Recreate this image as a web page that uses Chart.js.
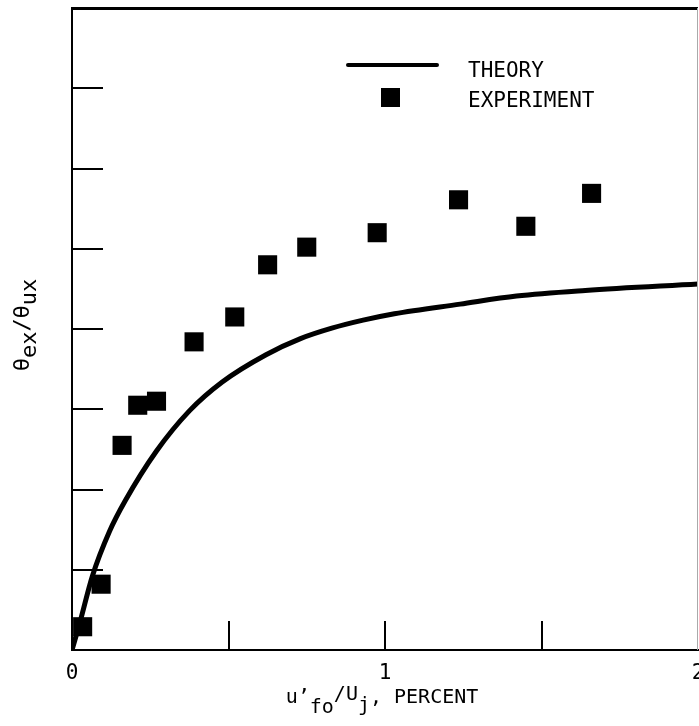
<!DOCTYPE html>
<html>
<head>
<meta charset="utf-8">
<title>theta ratio vs turbulence</title>
<script src="https://cdn.jsdelivr.net/npm/chart.js@4.4.0/dist/chart.umd.min.js"></script>
<style>
html, body { margin: 0; padding: 0; background: #fff; overflow: hidden; }
</style>
</head>
<body>
<canvas id="chart" width="699" height="726"></canvas>
<script>
// theory curve, traced
let theoryX = [0, 0.025, 0.065, 0.12, 0.17, 0.27, 0.375, 0.48, 0.62, 0.73, 0.83, 0.93, 1.03, 1.24, 1.42, 1.64, 2.0];
let theoryY = [0, 0.34, 0.92, 1.48, 1.86, 2.48, 2.98, 3.34, 3.68, 3.88, 4.01, 4.11, 4.19, 4.31, 4.41, 4.48, 4.56];

// experiment points
let expX = [0.034, 0.093, 0.16, 0.21, 0.27, 0.39, 0.52, 0.625, 0.75, 0.975, 1.235, 1.45, 1.66];
let expY = [0.29, 0.82, 2.55, 3.05, 3.10, 3.84, 4.15, 4.80, 5.02, 5.20, 5.61, 5.28, 5.69];

let xTickVals = [0, 0.5, 1, 1.5, 2];
let xTickText = ['0', '', '1', '', '2'];
let yTickVals = [1, 2, 3, 4, 5, 6, 7];

const mono = '"DejaVu Sans Mono", "Liberation Mono", monospace';

function pts(xs, ys) {
    let out = [];
    for (let i = 0; i < xs.length; i++) out.push({x: xs[i], y: ys[i]});
    return out;
}

// draw a row of text pieces, each with its own vertical shift (subscripts etc)
function drawPieces(ctx, pieces, x, y, size) {
    ctx.font = size + 'px ' + mono;
    let w = 0;
    pieces.forEach(p => { w += ctx.measureText(p[0]).width; });
    let cx = x - w / 2;
    pieces.forEach(p => {
        ctx.fillText(p[0], cx, y + p[1]);
        cx += ctx.measureText(p[0]).width;
    });
}

const frame = {
    id: 'frame',
    afterDraw(chart) {
        let ctx = chart.ctx;
        let a = chart.chartArea;
        let xs = chart.scales.x, ys = chart.scales.y;
        ctx.save();
        ctx.strokeStyle = '#000';
        ctx.fillStyle = '#000';

        // top border
        ctx.lineWidth = 3;
        ctx.beginPath();
        ctx.moveTo(a.left, a.top + 0.5);
        ctx.lineTo(a.right, a.top + 0.5);
        ctx.stroke();
        // right border, faint
        ctx.strokeStyle = '#aaa';
        ctx.lineWidth = 1;
        ctx.beginPath();
        ctx.moveTo(a.right - 0.5, a.top);
        ctx.lineTo(a.right - 0.5, a.bottom);
        ctx.stroke();

        // inward tick marks
        ctx.strokeStyle = '#000';
        ctx.lineWidth = 2;
        xTickVals.forEach(v => {
            if (v <= 0 || v >= 2) return;
            let px = Math.round(xs.getPixelForValue(v));
            ctx.beginPath();
            ctx.moveTo(px, a.bottom);
            ctx.lineTo(px, a.bottom - 29);
            ctx.stroke();
        });
        yTickVals.forEach(v => {
            let py = Math.round(ys.getPixelForValue(v));
            ctx.beginPath();
            ctx.moveTo(a.left, py);
            ctx.lineTo(a.left + 31, py);
            ctx.stroke();
        });

        // x title: u'fo/Uj, PERCENT
        ctx.textBaseline = 'alphabetic';
        ctx.textAlign = 'left';
        drawPieces(ctx, [['u\u2019', 0], ['fo', 10], ['/U', -3], ['j', 8], [', PERCENT', 0]], 382, 703, 20);

        // y title: θex/θux
        ctx.save();
        ctx.translate(29, 325);
        ctx.rotate(-Math.PI / 2);
        drawPieces(ctx, [['\u03b8', 0], ['ex', 7], ['/\u03b8', 0], ['ux', 7]], 0, 0, 22);
        ctx.restore();

        // legend
        ctx.lineWidth = 4;
        ctx.lineCap = 'round';
        ctx.beginPath();
        ctx.moveTo(348, 65);
        ctx.lineTo(437, 65);
        ctx.stroke();
        ctx.fillRect(381, 88, 19, 19);
        ctx.font = '21px ' + mono;
        ctx.fillText('THEORY', 468, 77);
        ctx.fillText('EXPERIMENT', 468, 107);
        ctx.restore();
    }
};

new Chart(document.getElementById('chart'), {
    type: 'scatter',
    data: {
        datasets: [{
            label: 'THEORY',
            type: 'line',
            data: pts(theoryX, theoryY),
            borderColor: '#000',
            borderWidth: 5,
            pointRadius: 0,
            cubicInterpolationMode: 'monotone',
            fill: false
        }, {
            label: 'EXPERIMENT',
            data: pts(expX, expY),
            pointStyle: 'rect',
            pointRadius: 13.5,
            backgroundColor: '#000',
            borderColor: '#000',
            borderWidth: 0
        }]
    },
    options: {
        responsive: false,
        animation: false,
        devicePixelRatio: 1,
        layout: { padding: { top: 8, right: 1, left: 0, bottom: 0 }, autoPadding: false },
        plugins: { legend: { display: false }, tooltip: { enabled: false } },
        scales: {
            x: {
                type: 'linear',
                min: 0, max: 2,
                afterBuildTicks: s => { s.ticks = xTickVals.map(v => ({value: v})); },
                afterFit: s => {
                    s.height = 76;
                    s.paddingLeft = 0;
                    s.paddingRight = 0;
                },
                grid: { display: false, drawTicks: false },
                border: { display: true, color: '#000', width: 2 },
                ticks: {
                    padding: 11,
                    color: '#000',
                    font: { family: mono, size: 21 },
                    maxRotation: 0,
                    autoSkip: false,
                    callback: (v) => xTickText[xTickVals.indexOf(v)]
                }
            },
            y: {
                type: 'linear',
                min: 0, max: 8,
                afterBuildTicks: s => { s.ticks = yTickVals.map(v => ({value: v})); },
                afterFit: s => {
                    s.width = 72;
                    s.paddingTop = 0;
                    s.paddingBottom = 0;
                },
                grid: { display: false, drawTicks: false },
                border: { display: true, color: '#000', width: 2 },
                ticks: { display: false }
            }
        }
    },
    plugins: [frame]
});
</script>
</body>
</html>
